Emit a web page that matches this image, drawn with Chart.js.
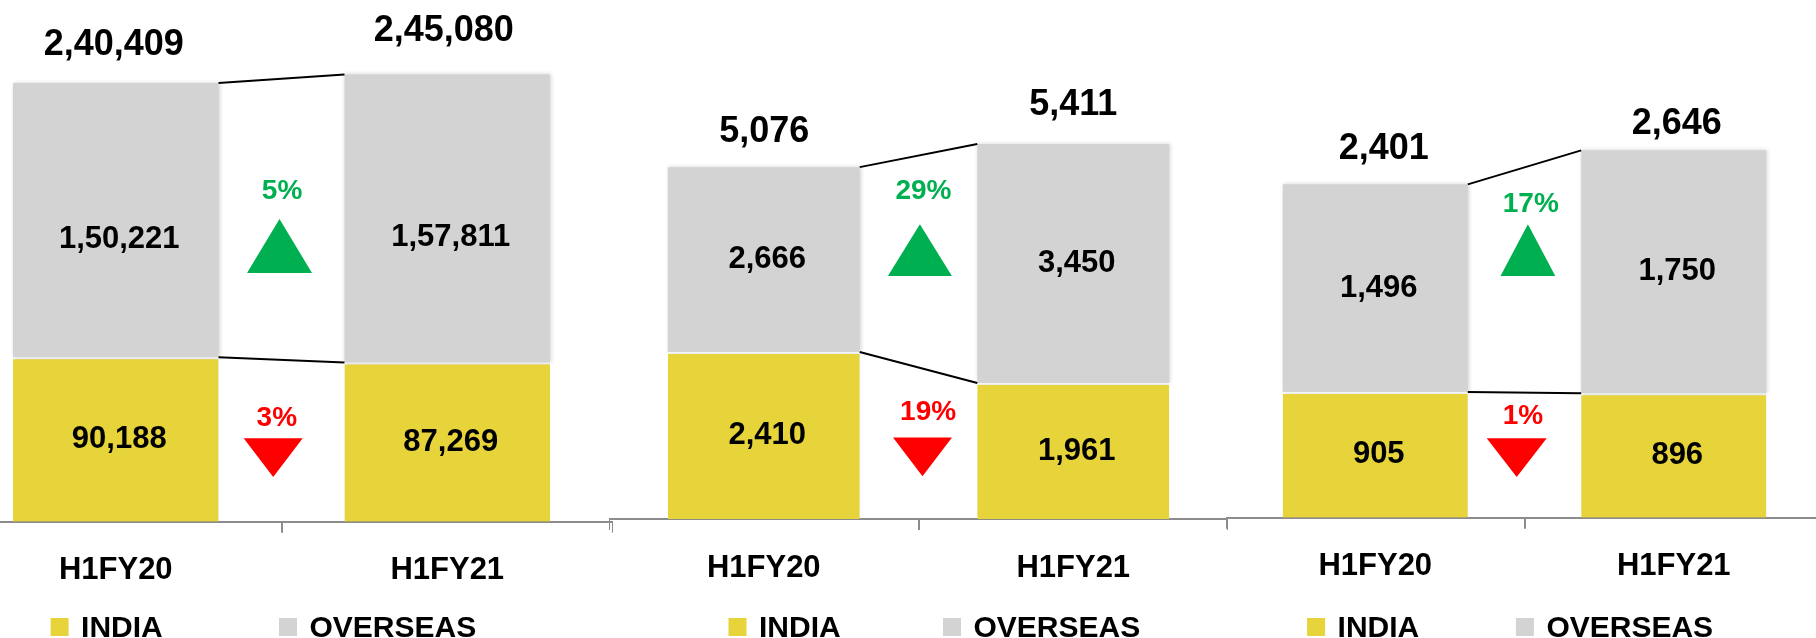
<!DOCTYPE html>
<html>
<head>
<meta charset="utf-8">
<title>India / Overseas H1FY20 vs H1FY21</title>
<script src="https://cdn.jsdelivr.net/npm/chart.js@4.4.1/dist/chart.umd.min.js"></script>
<style>
    html, body { margin: 0; padding: 0; background: #fff; overflow: hidden; }
    body { width: 1816px; height: 638px; position: relative; }
    .panel { position: absolute; top: 0; height: 638px; }
</style>
</head>
<body>
<div class="panel" style="left:-50px; width:663px;"><canvas id="chart-1"></canvas></div>
<div class="panel" style="left:609px; width:619px;"><canvas id="chart-2"></canvas></div>
<div class="panel" style="left:1226px; width:597px;"><canvas id="chart-3"></canvas></div>
<script>
const categories = ['H1FY20', 'H1FY21'];
const seriesNames = ['INDIA', 'OVERSEAS'];

const panel1India = [90188, 87269];
const panel1Overseas = [150221, 157811];
const panel2India = [2410, 1961];
const panel2Overseas = [2666, 3450];
const panel3India = [905, 896];
const panel3Overseas = [1496, 1750];

const INDIA_COLOR = '#E6D43A';
const OVERSEAS_COLOR = '#D3D3D3';
const UP_COLOR = '#00B050';
const DOWN_COLOR = '#FF0000';
const FONT = '"Liberation Sans", Arial, sans-serif';

Chart.defaults.font.family = FONT;

// 2,40,409 style grouping
function formatIN(n) {
    const s = String(Math.round(n));
    if (s.length <= 3) return s;
    const head = s.slice(0, -3).replace(/\B(?=(\d{2})+(?!\d))/g, ',');
    return head + ',' + s.slice(-3);
}

const barNotes = {
    id: 'barNotes',
    beforeDatasetDraw(chart) {
        const ctx = chart.ctx;
        ctx.save();
        ctx.shadowColor = 'rgba(0, 0, 0, 0.18)';
        ctx.shadowBlur = 4;
        ctx.shadowOffsetX = 1;
    },
    afterDatasetDraw(chart) {
        chart.ctx.restore();
    },
    afterDatasetsDraw(chart, args, opts) {
        const ctx = chart.ctx;
        const sets = chart.data.datasets;
        const metas = sets.map((ds, d) => chart.getDatasetMeta(d).data);

        ctx.save();

        // connector lines between the two bars
        ctx.strokeStyle = '#000';
        ctx.lineWidth = 2;
        metas.forEach(bars => {
            const a = bars[0];
            const b = bars[1];
            ctx.beginPath();
            ctx.moveTo(a.x + a.width / 2, a.y);
            ctx.lineTo(b.x - b.width / 2, b.y);
            ctx.stroke();
        });

        // segment values
        ctx.fillStyle = '#000';
        ctx.textAlign = 'center';
        ctx.textBaseline = 'middle';
        ctx.font = 'bold 31px ' + FONT;
        sets.forEach((ds, d) => {
            metas[d].forEach((bar, i) => {
                ctx.fillText(formatIN(ds.data[i]), bar.x + 3.5, (bar.y + bar.base) / 2 + opts.segmentDy[d]);
            });
        });

        // stack totals
        ctx.textBaseline = 'alphabetic';
        ctx.font = 'bold 36px ' + FONT;
        metas[metas.length - 1].forEach((bar, i) => {
            const total = sets.reduce((sum, ds) => sum + ds.data[i], 0);
            const [dx, gap] = opts.totalOffsets[i];
            ctx.fillText(formatIN(total), bar.x + dx, bar.y - gap);
        });

        // growth arrows
        sets.forEach((ds, d) => {
            const bars = metas[d];
            const change = (ds.data[1] - ds.data[0]) / ds.data[0] * 100;
            const up = change >= 0;
            const g = opts.growth[d];
            const mid = (bars[0].x + bars[1].x) / 2;

            ctx.fillStyle = up ? UP_COLOR : DOWN_COLOR;
            ctx.textBaseline = 'middle';
            ctx.font = 'bold 28px ' + FONT;
            ctx.fillText(Math.round(Math.abs(change)) + '%', mid + g.labelDx, g.labelY);

            const cx = mid + g.triDx;
            ctx.beginPath();
            if (up) {
                ctx.moveTo(cx, g.top);
                ctx.lineTo(cx + g.half, g.bottom);
                ctx.lineTo(cx - g.half, g.bottom);
            } else {
                ctx.moveTo(cx - g.half, g.top);
                ctx.lineTo(cx + g.half, g.top);
                ctx.lineTo(cx, g.bottom);
            }
            ctx.closePath();
            ctx.fill();
        });

        ctx.restore();
    },
    afterDraw(chart, args, opts) {
        // legend row along the bottom edge
        const ctx = chart.ctx;
        ctx.save();
        ctx.font = 'bold 30px ' + FONT;
        ctx.textAlign = 'left';
        ctx.textBaseline = 'alphabetic';
        chart.data.datasets.forEach((ds, d) => {
            const x = opts.legendX[d];
            ctx.fillStyle = ds.backgroundColor;
            ctx.fillRect(x, 618, 18, 18);
            ctx.fillStyle = '#000';
            ctx.fillText(ds.label, x + 30.5, 637);
        });
        ctx.restore();
    },
};

function createPanel(canvas, india, overseas, cfg) {
    return new Chart(canvas, {
        type: 'bar',
        data: {
            labels: categories,
            datasets: [
                {
                    label: seriesNames[0],
                    data: india,
                    backgroundColor: INDIA_COLOR,
                    borderColor: '#fff',
                    borderWidth: { top: 2, left: 0, right: 0, bottom: 0 },
                    borderSkipped: false,
                },
                {
                    label: seriesNames[1],
                    data: overseas,
                    backgroundColor: OVERSEAS_COLOR,
                    borderWidth: 0,
                },
            ],
        },
        options: {
            responsive: true,
            maintainAspectRatio: false,
            animation: false,
            categoryPercentage: 0.62,
            barPercentage: 1,
            layout: {
                padding: { top: 0, left: 0, right: 0, bottom: cfg.bottomPad },
            },
            plugins: {
                legend: { display: false },
                tooltip: { enabled: false },
                barNotes: cfg.notes,
            },
            scales: {
                x: {
                    stacked: true,
                    grid: {
                        display: true,
                        offset: true,
                        drawOnChartArea: false,
                        drawTicks: true,
                        tickLength: 11,
                        color: '#8c8c8c',
                        lineWidth: 2,
                    },
                    border: {
                        display: true,
                        color: '#8c8c8c',
                        width: 2,
                    },
                    ticks: {
                        color: '#000',
                        padding: 19.5,
                        font: { size: 31, weight: 'bold' },
                    },
                },
                y: {
                    stacked: true,
                    display: false,
                    min: 0,
                    max: cfg.yMax,
                },
            },
        },
        plugins: [barNotes],
    });
}

function initCharts() {
    createPanel(document.getElementById('chart-1'), panel1India, panel1Overseas, {
        bottomPad: 29.1,
        yMax: 285900,
        notes: {
            segmentDy: [0, 19],
            totalOffsets: [[-2, 27.8], [-3.5, 33.8]],
            growth: [
                { labelY: 418, labelDx: -4.7, top: 438.2, bottom: 477, half: 29.5, triDx: -8.3 },
                { labelY: 191.6, labelDx: 0.6, top: 218.9, bottom: 273.1, half: 32.5, triDx: -2 },
            ],
            legendX: [100.6, 329],
        },
    });

    createPanel(document.getElementById('chart-2'), panel2India, panel2Overseas, {
        bottomPad: 31.8,
        yMax: 7487,
        notes: {
            segmentDy: [0, 0],
            totalOffsets: [[0.5, 25.6], [0, 28.5]],
            growth: [
                { labelY: 411.8, labelDx: 9.6, top: 437.4, bottom: 476.2, half: 29.5, triDx: 4 },
                { labelY: 191.6, labelDx: 4.9, top: 224.2, bottom: 276, half: 32, triDx: 1.4 },
            ],
            legendX: [119.5, 334],
        },
    });

    createPanel(document.getElementById('chart-3'), panel3India, panel3Overseas, {
        bottomPad: 33.1,
        yMax: 3729,
        notes: {
            segmentDy: [0, 0],
            totalOffsets: [[8.5, 25], [3, 16.7]],
            growth: [
                { labelY: 416.6, labelDx: -1.5, top: 438.2, bottom: 477, half: 30, triDx: -7.8 },
                { labelY: 203.8, labelDx: 6.3, top: 224.2, bottom: 276, half: 27.4, triDx: 3.4 },
            ],
            legendX: [81.1, 289.9],
        },
    });
}

document.addEventListener('DOMContentLoaded', initCharts);
</script>
</body>
</html>
